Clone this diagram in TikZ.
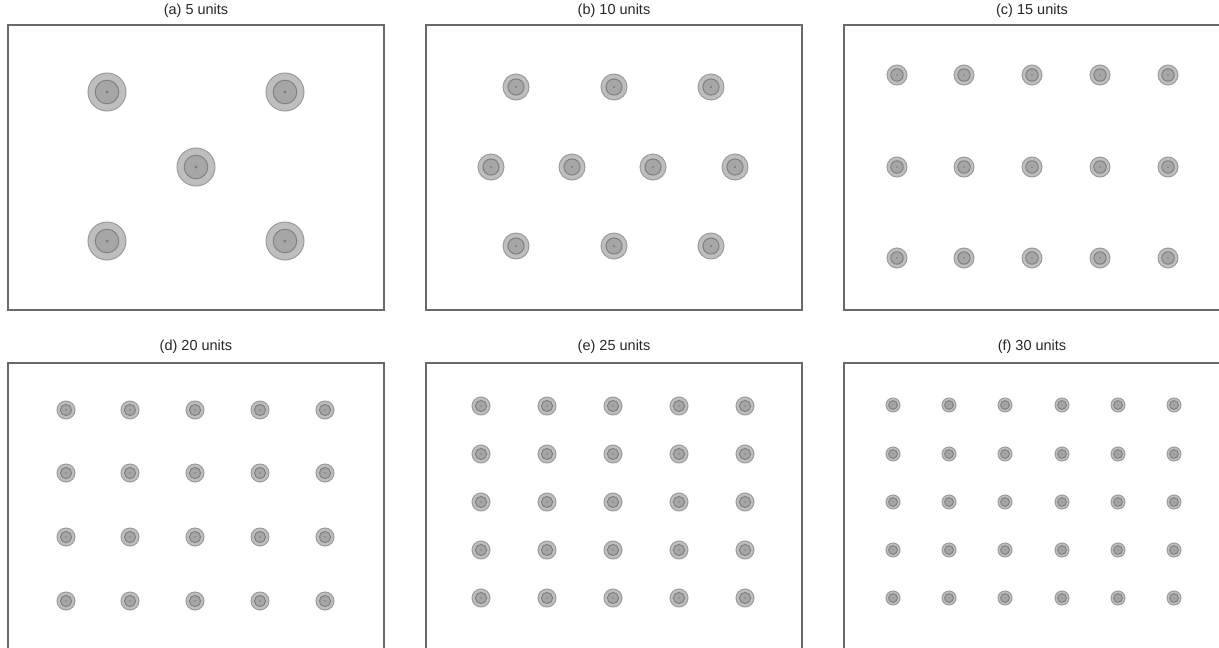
\documentclass[tikz,border=0pt]{standalone}
\usepackage{fontspec}
\setmainfont{Liberation Sans}
\definecolor{frameC}{HTML}{6A6A6A}
\definecolor{outerF}{HTML}{BEBEBE}
\definecolor{outerD}{HTML}{9C9C9C}
\definecolor{innerF}{HTML}{A6A6A6}
\definecolor{innerD}{HTML}{808080}
\definecolor{dotC}{HTML}{7A7A7A}
\tikzset{
  panel/.style={draw=frameC, line width=1.8pt},
  ptitle/.style={font=\fontsize{14.5}{16}\selectfont, text=black!85},
  pics/unit/.style={code={
    \fill[outerF, draw=outerD, line width=1pt] (0,0) circle (#1);
    \draw[innerD, fill=innerF, line width=1pt] (0,0) circle ({0.62*#1});
    \fill[dotC] (0,0) circle ({0.09*#1});
  }}
}
\begin{document}
\begin{tikzpicture}[x=1pt,y=-1pt]
\useasboundingbox (0,0) rectangle (1219,648);
\clip (0,0) rectangle (1219,648);
% frames
\draw[panel] (8,25) rectangle (384,310);
\draw[panel] (426,25) rectangle (802,310);
\draw[panel] (844,25) rectangle (1221,310);
\draw[panel] (8,363) rectangle (384,650);
\draw[panel] (426,363) rectangle (802,650);
\draw[panel] (844,363) rectangle (1221,650);
% titles
\node[ptitle] (ta) at (196,11) {(a) 5 units};
\node[ptitle] (tb) at (614,11) {(b) 10 units};
\node[ptitle] (tc) at (1032,11) {(c) 15 units};
\node[ptitle] (td) at (196,347) {(d) 20 units};
\node[ptitle] (te) at (614,347) {(e) 25 units};
\node[ptitle] (tf) at (1032,347) {(f) 30 units};
% (a)
\foreach \p in {(107,92),(285,92),(196,167),(107,241),(285,241)}
  \pic at \p {unit=19};
% (b)
\foreach \x in {516,614,711} {\pic at (\x,87) {unit=13}; \pic at (\x,246) {unit=13};}
\foreach \x in {491,572,653,735} {\pic at (\x,167) {unit=13};}
% (c)
\foreach \y in {75,167,258} \foreach \x in {897,964,1032,1100,1168} \pic at (\x,\y) {unit=10};
% (d)
\foreach \y in {410,473,537,601} \foreach \x in {66,130,195,260,325} \pic at (\x,\y) {unit=9};
% (e)
\foreach \y in {406,454,502,550,598} \foreach \x in {481,547,613,679,745} \pic at (\x,\y) {unit=9};
% (f)
\foreach \y in {405,454,502,550,598} \foreach \x in {893,949,1005,1062,1118,1174} \pic at (\x,\y) {unit=7};
\end{tikzpicture}
\end{document}
